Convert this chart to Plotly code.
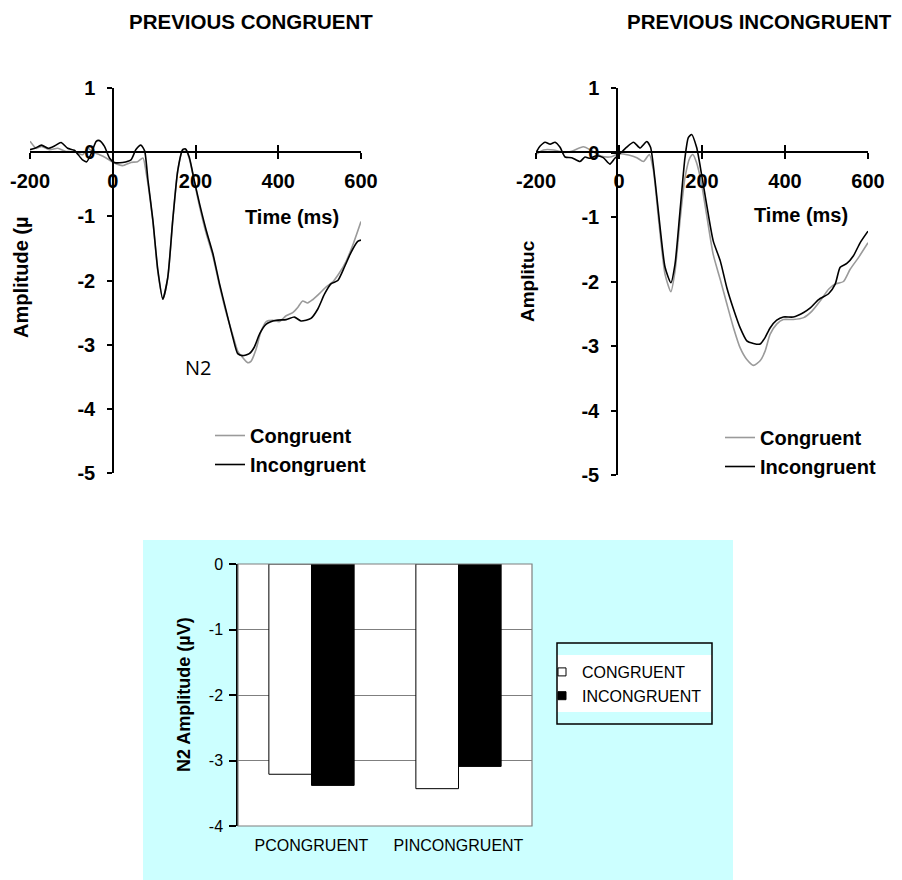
import plotly.graph_objects as go

# The page adds an 8px body margin, so the figure occupies 894x872 of the 902x880 window.
OFF = 8
W, H = 902 - OFF, 880 - OFF

# ---------------- data ----------------
x_ticks = [-200, 0, 200, 400, 600]
x_tick_labels = ["-200", "0", "200", "400", "600"]
y_ticks_erp = [1, 0, -1, -2, -3, -4, -5]
y_tick_labels_erp = ["1", "0", "-1", "-2", "-3", "-4", "-5"]

# Previous congruent – incongruent (black)
pc_inc_t = [-200, -188, -172, -156, -140, -125, -109, -93, -73, -63, -52, -40, -32, -20, -8, 4, 24, 44, 56, 68, 77, 85,
            97, 109, 121, 133, 145, 157, 169, 176, 185, 197, 210, 226, 242, 258, 274, 290, 302, 314, 330, 342, 355,
            371, 395, 419, 439, 455, 479, 496, 512, 528, 544, 560, 576, 592, 600]
pc_inc_v = [0.04, 0.06, 0.11, 0.06, 0.10, 0.15, 0.06, 0.03, -0.12, -0.15, -0.02, 0.17, 0.18, 0.09, -0.09, -0.16, -0.16, -0.12,
            0.04, 0.11, 0.02, -0.43, -1.06, -1.84, -2.29, -1.95, -1.06, -0.29, 0.04, 0.05, -0.08, -0.44, -0.81, -1.22,
            -1.58, -2.05, -2.47, -2.88, -3.14, -3.17, -3.14, -3.04, -2.83, -2.68, -2.62, -2.61, -2.57, -2.63, -2.59,
            -2.44, -2.21, -2.05, -2.00, -1.79, -1.56, -1.39, -1.37]

# Previous congruent – congruent (grey)
pc_con_t = [-200, -185, -172, -153, -133, -113, -93, -73, -60, -48, -32, -16, 4, 24, 44, 60, 73, 81,
            97, 109, 121, 133, 145, 157, 169, 176, 185, 197, 210, 226, 242, 258, 274, 290, 302, 314, 326, 334,
            346, 358, 371, 387, 403, 419, 435, 447, 459, 471, 483, 500, 516, 532, 548, 564, 580, 600]
pc_con_v = [0.17, 0.06, 0.09, 0.04, 0.06, 0.01, 0.01, -0.04, 0.06, 0.0, -0.04, -0.09, -0.17, -0.21, -0.16, -0.15, -0.09,
            -0.33, -1.08, -1.86, -2.29, -1.96, -1.07, -0.30, 0.03, 0.04, -0.10, -0.46, -0.85, -1.27, -1.62, -2.08,
            -2.50, -2.85, -3.10, -3.20, -3.28, -3.26, -3.08, -2.80, -2.64, -2.62, -2.64, -2.55, -2.50, -2.42, -2.32,
            -2.35, -2.30, -2.20, -2.10, -2.02, -1.88, -1.70, -1.45, -1.08]

# Previous incongruent – incongruent (black)
pi_inc_t = [-200, -190, -178, -166, -154, -142, -130, -114, -94, -82, -70, -54, -38, -22, -10, 2, 18, 35, 51, 67, 76,
            87, 99, 111, 125, 135, 147, 159, 167, 175, 187, 199, 211, 227, 244, 260, 276, 292, 308, 324, 340, 352,
            364, 380, 396, 420, 445, 461, 481, 505, 521, 533, 549, 565, 581, 600]
pi_inc_v = [0.0, 0.10, 0.16, 0.13, 0.16, 0.08, -0.07, -0.08, -0.14, -0.07, -0.09, -0.05, -0.08, -0.18, -0.09, -0.02, 0.08,
            0.16, 0.07, 0.17, 0.08, -0.44, -1.16, -1.78, -2.02, -1.73, -0.91, -0.08, 0.23, 0.28, 0.08, -0.34, -0.80,
            -1.37, -1.68, -2.10, -2.43, -2.72, -2.92, -2.96, -2.97, -2.87, -2.72, -2.60, -2.55, -2.55, -2.48, -2.41,
            -2.28, -2.19, -2.04, -1.78, -1.72, -1.60, -1.40, -1.22]

# Previous incongruent – congruent (grey)
pi_con_t = [-200, -182, -158, -134, -114, -86, -66, -46, -22, 0, 23, 43, 59, 73, 83, 95, 111, 125, 135, 147, 159, 171,
            178, 187, 199, 211, 227, 244, 260, 276, 292, 308, 324, 340, 352, 364, 380, 396, 420, 445, 465, 485, 505,
            521, 541, 557, 577, 600]
pi_con_v = [-0.03, 0.04, 0.04, 0.0, 0.02, 0.09, 0.03, -0.05, -0.07, -0.02, -0.04, -0.08, -0.14, -0.03, -0.28, -1.01,
            -1.89, -2.16, -1.84, -1.06, -0.39, -0.08, -0.03, -0.16, -0.49, -0.96, -1.58, -1.97, -2.35, -2.72, -3.03,
            -3.21, -3.30, -3.23, -3.08, -2.82, -2.66, -2.59, -2.59, -2.56, -2.46, -2.30, -2.12, -2.04, -2.00, -1.81,
            -1.63, -1.40]

bar_categories = ["PCONGRUENT", "PINCONGRUENT"]
bar_series = ["CONGRUENT", "INCONGRUENT"]
bar_congruent = [-3.21, -3.43]
bar_incongruent = [-3.38, -3.09]
y_ticks_bar = [0, -1, -2, -3, -4]
y_tick_labels_bar = ["0", "-1", "-2", "-3", "-4"]

# ---------------- helpers (window pixel -> paper fraction) ----------------
def px_x(p):
    return (p - OFF) / W

def px_y(p):
    return 1 - (p - OFF) / H

FONT = "Liberation Sans"
GREY = "#9a9a9a"

fig = go.Figure()

spl = dict(shape="spline", smoothing=0.6)
fig.add_trace(go.Scatter(x=pc_con_t, y=pc_con_v, mode="lines", name="Congruent",
                         line=dict(color=GREY, width=1.6, **spl), xaxis="x", yaxis="y", legend="legend"))
fig.add_trace(go.Scatter(x=pc_inc_t, y=pc_inc_v, mode="lines", name="Incongruent",
                         line=dict(color="black", width=1.6, **spl), xaxis="x", yaxis="y", legend="legend"))
fig.add_trace(go.Scatter(x=pi_con_t, y=pi_con_v, mode="lines", name="Congruent",
                         line=dict(color=GREY, width=1.6, **spl), xaxis="x2", yaxis="y2", legend="legend2"))
fig.add_trace(go.Scatter(x=pi_inc_t, y=pi_inc_v, mode="lines", name="Incongruent",
                         line=dict(color="black", width=1.6, **spl), xaxis="x2", yaxis="y2", legend="legend2"))
# empty traces so the overlay tick axes (upward half of the crossing ticks) are drawn
fig.add_trace(go.Scatter(x=[None], y=[None], xaxis="x5", yaxis="y", showlegend=False, hoverinfo="skip"))
fig.add_trace(go.Scatter(x=[None], y=[None], xaxis="x6", yaxis="y2", showlegend=False, hoverinfo="skip"))

bar_fill = ["white", "black"]
for name, vals, fill in zip(bar_series, [bar_congruent, bar_incongruent], bar_fill):
    fig.add_trace(go.Bar(x=bar_categories, y=vals, name=name, showlegend=False,
                         marker=dict(color=fill, line=dict(color="black", width=1)),
                         xaxis="x3", yaxis="y3"))
    # small square legend swatch (Excel style)
    fig.add_trace(go.Scatter(x=[None], y=[None], mode="markers", name=name,
                             marker=dict(symbol="square", size=8, color=fill, line=dict(color="black", width=1)),
                             xaxis="x3", yaxis="y3", legend="legend3", hoverinfo="skip"))

bold_tick = dict(family=FONT, size=20, color="black", weight="bold")

def erp_axes(x0, x1, yaxis_px, ytop, ybot):
    xa = dict(domain=[px_x(x0), px_x(x1)], range=[-200, 600], tickvals=x_ticks, ticktext=x_tick_labels,
              anchor="free", position=px_y(152), ticks="outside", ticklen=6, tickwidth=1.5, tickcolor="black",
              showline=True, linecolor="black", linewidth=1.5, showgrid=False, zeroline=False,
              tickfont=bold_tick, ticklabelstandoff=5, fixedrange=True, automargin=False)
    ya = dict(domain=[px_y(ybot), px_y(ytop)], range=[-5, 1], tickvals=y_ticks_erp, ticktext=y_tick_labels_erp,
              anchor="free", position=px_x(yaxis_px), ticks="outside", ticklen=5, tickwidth=1.5, tickcolor="black",
              showline=True, linecolor="black", linewidth=1.5, showgrid=False, zeroline=False,
              tickfont=bold_tick, ticklabelstandoff=8, fixedrange=True, automargin=False)
    return xa, ya

xa1, ya1 = erp_axes(30, 361, 113, 88, 473)
xa2, ya2 = erp_axes(536, 868, 617, 88, 475)

def overlay_ticks(base):
    return dict(overlaying=base, range=[-200, 600], tickvals=x_ticks, anchor="free", position=px_y(152),
                ticks="inside", ticklen=7, tickwidth=1.5, tickcolor="black", showline=False,
                showticklabels=False, showgrid=False, zeroline=False, fixedrange=True, automargin=False)

bar_x0, bar_x1, bar_ytop, bar_ybot = 238, 532, 564, 826

def ann(text, x, y, size, bold=True, angle=0, family=FONT):
    f = dict(family=family, size=size, color="black")
    if bold:
        f["weight"] = "bold"
    return dict(text=text, x=px_x(x), y=px_y(y), xref="paper", yref="paper", showarrow=False,
                xanchor="center", yanchor="middle", textangle=angle, font=f)

fig.update_layout(
    width=W, height=H, margin=dict(l=0, r=0, t=0, b=0, pad=0, autoexpand=False),
    paper_bgcolor="white", plot_bgcolor="rgba(0,0,0,0)",
    font=dict(family=FONT, color="black"),
    xaxis=xa1, yaxis=ya1, xaxis2=xa2, yaxis2=ya2,
    xaxis5=overlay_ticks("x"), xaxis6=overlay_ticks("x2"),
    xaxis3=dict(domain=[px_x(bar_x0), px_x(bar_x1)], anchor="y3", showline=False, ticks="",
                showgrid=False, zeroline=False, tickfont=dict(family=FONT, size=16, color="black"),
                ticklabelstandoff=8, fixedrange=True, automargin=False),
    yaxis3=dict(domain=[px_y(bar_ybot), px_y(bar_ytop)], anchor="x3", range=[-4, 0], tickvals=y_ticks_bar,
                ticktext=y_tick_labels_bar,
                showline=True, linecolor="black", linewidth=1.5, ticks="outside", ticklen=7, tickwidth=1.5,
                tickcolor="black", showgrid=True, gridcolor="#7f7f7f", gridwidth=1, zeroline=False,
                tickfont=dict(family=FONT, size=16, color="black"), ticklabelstandoff=3, fixedrange=True,
                automargin=False),
    barmode="group", bargap=0.42, bargroupgap=0.0,
    showlegend=True,
    legend=dict(x=px_x(210), y=px_y(416), xanchor="left", yanchor="top", bgcolor="rgba(0,0,0,0)",
                font=dict(family=FONT, size=20, color="black", weight="bold"), tracegroupgap=0),
    legend2=dict(x=px_x(720), y=px_y(418), xanchor="left", yanchor="top", bgcolor="rgba(0,0,0,0)",
                 font=dict(family=FONT, size=20, color="black", weight="bold"), tracegroupgap=0),
    legend3=dict(x=px_x(542), y=px_y(655), xanchor="left", yanchor="top", bgcolor="rgba(0,0,0,0)",
                 font=dict(family=FONT, size=16, color="black"), tracegroupgap=0),
    shapes=[
        dict(type="rect", xref="paper", yref="paper", x0=px_x(143), x1=px_x(733), y0=px_y(880), y1=px_y(540),
             fillcolor="#CCFFFF", line=dict(width=0), layer="below"),
        dict(type="rect", xref="paper", yref="paper", x0=px_x(bar_x0), x1=px_x(bar_x1), y0=px_y(bar_ybot),
             y1=px_y(bar_ytop), fillcolor="white", line=dict(width=0), layer="below"),
        dict(type="rect", xref="x3 domain", yref="y3 domain", x0=0, x1=1, y0=0, y1=1,
             line=dict(color="#7f7f7f", width=1.2), fillcolor="rgba(0,0,0,0)", layer="above"),
        dict(type="rect", xref="paper", yref="paper", x0=px_x(557), x1=px_x(712), y0=px_y(712), y1=px_y(655),
             fillcolor="white", line=dict(width=0), layer="below"),
        dict(type="rect", xref="paper", yref="paper", x0=px_x(557), x1=px_x(712), y0=px_y(724), y1=px_y(643),
             fillcolor="rgba(0,0,0,0)", line=dict(color="black", width=1.5), layer="above"),
    ],
    annotations=[
        ann("PREVIOUS CONGRUENT", 251, 22, 20.5),
        ann("PREVIOUS INCONGRUENT", 759, 22, 20.5),
        ann("Time (ms)", 292, 217, 20),
        ann("Time (ms)", 801, 215, 20),
        ann("Amplitude (µ", 21, 277, 20, angle=-90),
        ann("Amplituc", 527, 281, 19, angle=-90),
        ann("N2", 198, 367, 20, bold=False, family="Open Sans"),
        ann("N2 Amplitude (µV)", 184, 695, 18, angle=-90),
    ],
)

fig.write_html("out.html")
